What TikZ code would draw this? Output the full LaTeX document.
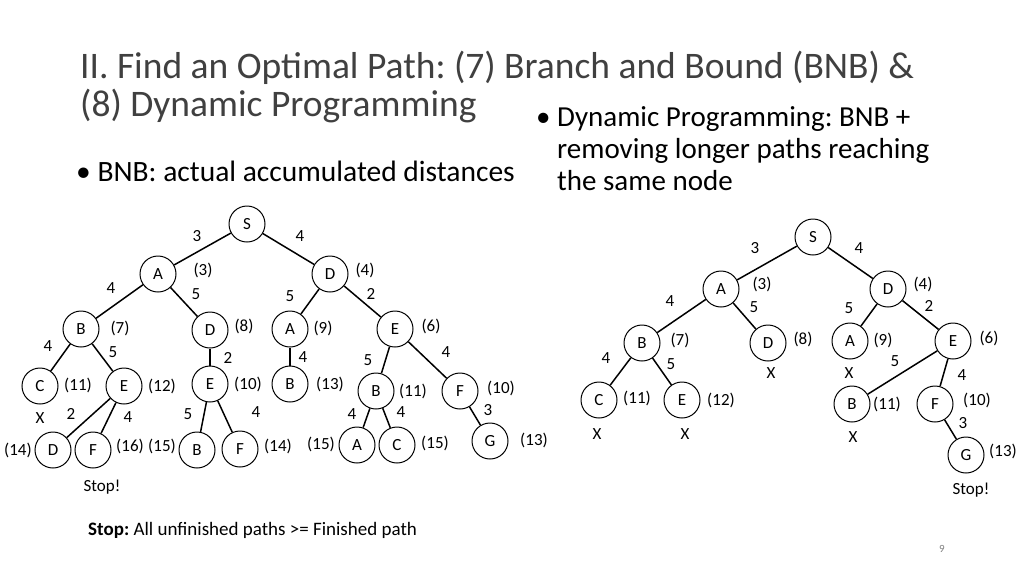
\documentclass[tikz,border=0pt]{standalone}
\usepackage{fontspec}
\setmainfont{Carlito}
\begin{document}
\frenchspacing
\begin{tikzpicture}[x=1pt,y=-1pt,
 v/.style={draw,circle,minimum size=36pt,inner sep=0pt,line width=1pt,font=\fontsize{17}{18}\selectfont},
 e/.style={line width=1.5pt},
 l/.style={font=\fontsize{17}{18}\selectfont,inner sep=0pt}]
\useasboundingbox (0,0) rectangle (1024,576);
\definecolor{tc}{HTML}{404040}
\node[anchor=base west,text=tc,font=\fontsize{37.5}{40}\selectfont,inner sep=0pt] (t1) at (80,78) {II. Find an Optimal Path: (7) Branch and Bound (BNB) \&};
\node[anchor=base west,text=tc,font=\fontsize{37.5}{40}\selectfont,inner sep=0pt] (t2) at (80,116) {(8) Dynamic Programming};
\node[anchor=base west,font=\fontsize{29.5}{32}\selectfont,inner sep=0pt] (b1) at (76,181) {\textbullet\ BNB: actual accumulated distances};
\node[anchor=north west,font=\fontsize{29}{32}\selectfont,inner sep=0pt,align=left] (b2) at (536,106) {\textbullet\ Dynamic Programming: BNB +\\\phantom{\textbullet\ }removing longer paths reaching\\\phantom{\textbullet\ }the same node};
\node[anchor=base west,font=\fontsize{19}{20}\selectfont,inner sep=0pt] (ft) at (88,535) {\textbf{Stop:} All unfinished paths >= Finished path};
\node[text=gray,font=\fontsize{11}{12}\selectfont] (pg) at (942,549) {9};
% left tree
\foreach \n/\t/\x/\y in {S/S/247/224,A/A/158/274,D/D/330/274,B/B/81/329,D2/D/210/330,A2/A/290/329,E/E/395/329,C/C/40/386,E2/E/124/386,E3/E/210/384,B2/B/290/384,B3/B/376/391,F/F/460/391,D3/D/53/450,F2/F/93/450,B4/B/197/450,F3/F/240/449,A3/A/357/445,C2/C/397/445,G/G/490/441}
  \node[v] (L\n) at (\x,\y) {\t};
\foreach \a/\b/\w/\x/\y in {S/A/3/197/236,S/D/4/300/236,A/B/4/111/288,A/D2/5/196/294,D/A2/5/290/296,D/E/2/371/294,B/C/4/48/346,B/E2/5/113/352,D2/E3/2/228/358,A2/B2/4/303/357,E/B3/5/368/360,E/F/4/446/352,E2/D3/2/71/414,E2/F2/4/128/417,E3/B4/5/188/414,E3/F3/4/256/412,B3/A3/4/352/414,B3/C2/4/401/412,F/G/3/488/410}
 {\draw[e] (L\a) -- (L\b); \node[l] at (\x,\y) {\w};}
\foreach \n/\c/\x/\y in {A/3/203/270,D/4/365/270,B/7/120/328,D2/8/244/326,A2/9/323/328,E/6/431/326,C/11/78/385,E2/12/162/386,E3/10/248/384,B2/13/330/384,B3/11/413/391,F/10/501/388,D3/14/18/450,F2/16/130/446,B4/15/162/446,F3/14/278/446,A3/15/321/444,C2/15/435/443,G/13/534/440}
  \node[l] at (\x,\y) {(\c)};
\node[l] (x0) at (40,418) {X};
\node[l] (s1) at (102,487) {Stop!};
% right tree
\foreach \n/\t/\x/\y in {S/S/813/237,A/A/721/289,D/D/888/289,B/B/642/343,D2/D/768/343,A2/A/850/341,E/E/953/341,C/C/599/400,E2/E/682/400,B2/B/852/404,F/F/935/404,G/G/966/455}
  \node[v] (R\n) at (\x,\y) {\t};
\foreach \a/\b/\w/\x/\y in {S/A/3/755/248,S/D/4/859/248,A/B/4/670/301,A/D2/5/754/307,D/A2/5/849/308,D/E/2/929/306,B/C/4/606/358,B/E2/5/671/364,E/B2/5/895/361,E/F/4/962/375,F/G/3/963/423}
 {\draw[e] (R\a) -- (R\b); \node[l] at (\x,\y) {\w};}
\foreach \n/\c/\x/\y in {A/3/762/284,D/4/923/284,B/7/680/340,D2/8/803/339,A2/9/883/340,E/6/989/338,C/11/637/398,E2/12/721/400,B2/11/887/404,F/10/977/400,G/13/1003/451}
  \node[l] at (\x,\y) {(\c)};
\foreach \x/\y in {771/373,849/373,597/434,685/434,853/437}
  \node[l] at (\x,\y) {X};
\node[l] (s2) at (971,490) {Stop!};
\end{tikzpicture}
\end{document}
